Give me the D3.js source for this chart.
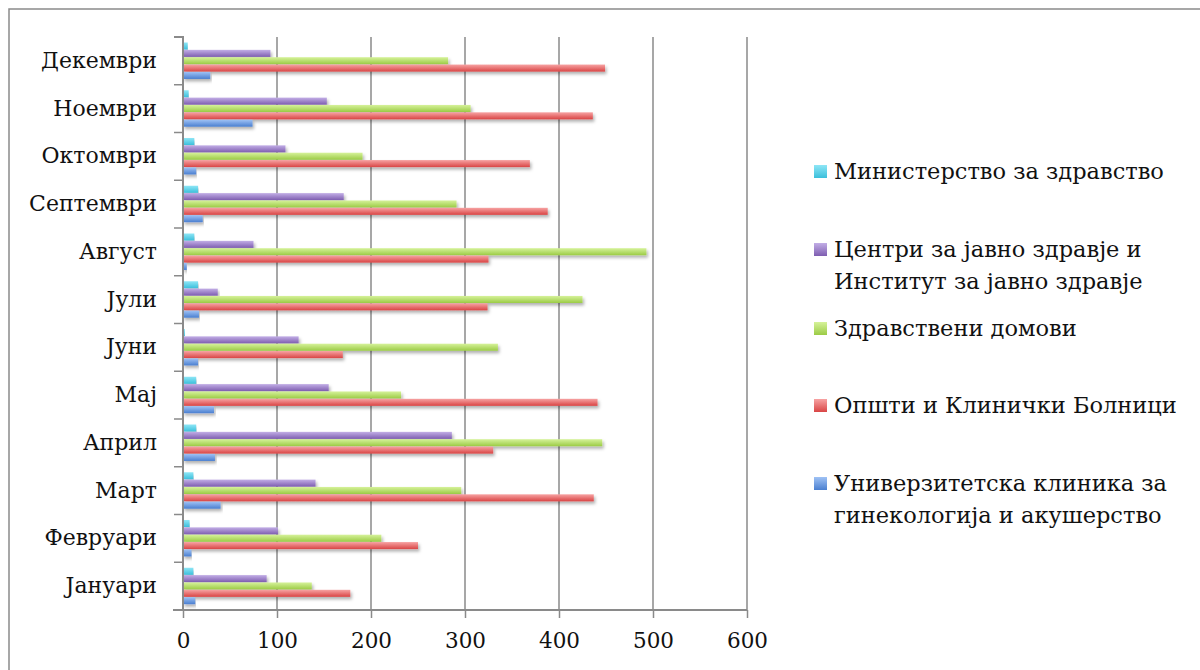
<!DOCTYPE html>
<html>
<head>
<meta charset="utf-8">
<script src="https://cdn.jsdelivr.net/npm/d3@7"></script>
<style>
  body { margin: 0; background: #fff; }
  text { font-family: "DejaVu Serif", "Liberation Serif", serif; fill: #111; }
</style>
</head>
<body>
<div id="chart"></div>
<script>
// months from top to bottom
const months = ['Декември', 'Ноември', 'Октомври', 'Септември', 'Август', 'Јули',
    'Јуни', 'Мај', 'Април', 'Март', 'Февруари', 'Јануари'];

const seriesNames = [
    ['Министерство за здравство'],
    ['Центри за јавно здравје и', 'Институт за јавно здравје'],
    ['Здравствени домови'],
    ['Општи и Клинички Болници'],
    ['Универзитетска клиника за', 'гинекологија и акушерство']
];

// values per month, same order as months
const ministerstvo = [5, 6, 12, 16, 12, 16, 2, 14, 14, 11, 7, 11];
const centri = [93, 153, 109, 171, 75, 37, 123, 155, 286, 141, 101, 89];
const domovi = [282, 306, 191, 291, 493, 425, 335, 232, 446, 296, 211, 137];
const bolnici = [449, 436, 369, 388, 325, 324, 170, 441, 330, 437, 250, 178];
const klinika = [29, 74, 14, 21, 4, 17, 16, 33, 34, 40, 9, 13];

const series = [ministerstvo, centri, domovi, bolnici, klinika];
const xTicks = [0, 100, 200, 300, 400, 500, 600];

const colors = [
    ['#8ee6f6', '#3bbfdb'],
    ['#c2aee6', '#7e5db0'],
    ['#d6f29a', '#9bcb45'],
    ['#f7a3a3', '#d94545'],
    ['#9fc2f5', '#4a7fd0']
];

const width = 1200;
const height = 670;
const plotLeft = 183, plotRight = 747, plotTop = 37, plotBottom = 610;

const svg = d3.select('#chart').append('svg')
    .attr('width', width)
    .attr('height', height);

const defs = svg.append('defs');
colors.forEach((c, i) => {
    const g = defs.append('linearGradient')
        .attr('id', 'grad' + i)
        .attr('x1', 0).attr('y1', 0).attr('x2', 0).attr('y2', 1);
    g.append('stop').attr('offset', '0%').attr('stop-color', c[0]);
    g.append('stop').attr('offset', '100%').attr('stop-color', c[1]);
});
const shadow = defs.append('filter').attr('id', 'shadow')
    .attr('x', '-5%').attr('y', '-50%').attr('width', '110%').attr('height', '250%');
shadow.append('feDropShadow')
    .attr('dx', 1.5).attr('dy', 2.5).attr('stdDeviation', 1.8)
    .attr('flood-color', '#000').attr('flood-opacity', 0.3);

// frame
svg.append('rect')
    .attr('x', 9).attr('y', 9)
    .attr('width', width + 20).attr('height', height + 20)
    .attr('fill', 'none')
    .attr('stroke', '#8a8a8a')
    .attr('stroke-width', 1.5);

const x = d3.scaleLinear().domain([0, 600]).range([plotLeft, plotRight]);
const y = d3.scaleBand().domain(months).range([plotTop, plotBottom]);
const yInner = d3.scaleBand().domain(d3.range(5))
    .range([5.5, y.bandwidth() - 5.5]);

// grid
svg.append('g')
    .selectAll('line')
    .data(xTicks.slice(1))
    .enter()
    .append('line')
    .attr('x1', d => x(d)).attr('x2', d => x(d))
    .attr('y1', plotTop).attr('y2', plotBottom)
    .attr('stroke', '#8a8a8a')
    .attr('stroke-width', 1.5);

// bars
const groups = svg.append('g')
    .selectAll('g')
    .data(months)
    .enter()
    .append('g')
    .attr('transform', d => `translate(0,${y(d)})`);

groups.selectAll('rect')
    .data((m, mi) => series.map((s, si) => ({ si, v: s[mi] })))
    .enter()
    .append('rect')
    .attr('x', x(0))
    .attr('y', d => yInner(d.si))
    .attr('width', d => x(d.v) - x(0))
    .attr('height', yInner.bandwidth() - 0.3)
    .attr('fill', d => `url(#grad${d.si})`)
    .attr('filter', 'url(#shadow)');

// x axis
const xAxis = svg.append('g')
    .attr('transform', `translate(0,${plotBottom})`)
    .call(d3.axisBottom(x).tickValues(xTicks).tickSize(8).tickPadding(14));
xAxis.select('.domain').attr('stroke', '#8a8a8a').attr('stroke-width', 2)
    .attr('d', `M${plotLeft - 10},0H${plotRight}`);
xAxis.selectAll('.tick line').attr('stroke', '#8a8a8a').attr('stroke-width', 1.5);
xAxis.selectAll('.tick text')
    .style('font-family', '"DejaVu Serif", serif')
    .style('font-size', '21.5px')
    .attr('fill', '#111')
    .attr('dy', '0.75em');

// y axis
const yAxis = svg.append('g')
    .attr('transform', `translate(${plotLeft},0)`)
    .call(d3.axisLeft(y).tickSize(0).tickPadding(26));
yAxis.select('.domain').attr('stroke', '#8a8a8a').attr('stroke-width', 2)
    .attr('d', `M-9,${plotTop}H0V${plotBottom}`);
yAxis.selectAll('.tick text')
    .style('font-family', '"DejaVu Serif", serif')
    .style('font-size', '22px')
    .attr('fill', '#111');
yAxis.append('g')
    .selectAll('line')
    .data(months)
    .enter()
    .append('line')
    .attr('x1', -9).attr('x2', 0)
    .attr('y1', d => y(d) + y.bandwidth()).attr('y2', d => y(d) + y.bandwidth())
    .attr('stroke', '#8a8a8a')
    .attr('stroke-width', 1.5);

// legend
const legendY = [171, 249, 328, 405, 483];
const legend = svg.append('g')
    .selectAll('g')
    .data(seriesNames)
    .enter()
    .append('g')
    .attr('transform', (d, i) => `translate(814,${legendY[i]})`);

legend.append('rect')
    .attr('x', 0).attr('y', -6)
    .attr('width', 13).attr('height', 13)
    .attr('fill', (d, i) => `url(#grad${i})`);

legend.append('text')
    .attr('x', 20)
    .style('font-size', '22.5px')
    .selectAll('tspan')
    .data(d => d)
    .enter()
    .append('tspan')
    .attr('x', 20)
    .attr('dy', (d, i) => i === 0 ? '0.35em' : '1.42em')
    .text(d => d);
</script>
</body>
</html>
